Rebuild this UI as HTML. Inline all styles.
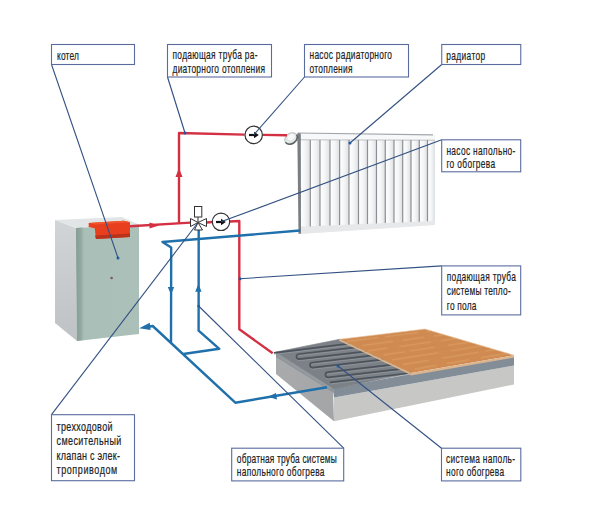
<!DOCTYPE html>
<html><head><meta charset="utf-8">
<style>
html,body{margin:0;padding:0;background:#fff;width:600px;height:514px;overflow:hidden}
svg{display:block}
text{font-family:"Liberation Sans",sans-serif;font-size:12.5px;fill:#222;stroke:#222;stroke-width:0.2px}
</style></head><body>
<svg width="600" height="514" viewBox="0 0 600 514">
<defs>
<linearGradient id="panel" x1="0" y1="0" x2="1" y2="0">
<stop offset="0" stop-color="#ffffff"/><stop offset="0.5" stop-color="#f4f5f6"/><stop offset="1" stop-color="#dcdfe2"/>
</linearGradient>
<linearGradient id="strip" x1="0" y1="0" x2="1" y2="0"><stop offset="0" stop-color="#869d96"/><stop offset="0.6" stop-color="#91a8a1"/><stop offset="1" stop-color="#a5bbb4"/></linearGradient>
<linearGradient id="leftface" x1="0" y1="0" x2="0" y2="1">
<stop offset="0" stop-color="#d2d5d8"/><stop offset="1" stop-color="#bfc2c5"/>
</linearGradient>
<linearGradient id="frontface" x1="0" y1="0" x2="1" y2="0">
<stop offset="0" stop-color="#9fb7af"/><stop offset="0.15" stop-color="#a9bfb8"/><stop offset="1" stop-color="#abc0b9"/>
</linearGradient>
<radialGradient id="knob" cx="0.4" cy="0.35" r="0.7">
<stop offset="0" stop-color="#ffffff"/><stop offset="0.5" stop-color="#dde1e3"/><stop offset="1" stop-color="#8d9498"/>
</radialGradient>
<linearGradient id="slableft" x1="0" y1="0" x2="1" y2="1">
<stop offset="0" stop-color="#a9abad"/><stop offset="1" stop-color="#a2a4a6"/>
</linearGradient>
</defs>

<!-- BOILER -->
<polygon points="55,220 76,228 77,341 55,323" fill="url(#leftface)"/>
<polygon points="55,220 122,217 139,224.5 76,228" fill="#e2e5e6"/>
<polygon points="76,228 139,224.5 139,334 77,341" fill="url(#frontface)"/>
<polygon points="76,228 83.5,227.6 83.5,340.1 77,341" fill="url(#strip)"/>
<!-- red burner block -->
<polygon points="88.7,223 124,220.7 130,222.3 130,237 96,239 94.7,228.3 88.7,227" fill="#e8401f"/>
<polygon points="88.7,223 124,220.7 130,222.3 95,224.5" fill="#f0552e"/>
<polygon points="95,235.5 130,233.5 130,237 96,239" fill="#b9331b"/>
<circle cx="111.6" cy="278" r="1.3" fill="#7a5a52"/>

<!-- RADIATOR -->
<polygon points="298,133 435,135 435,225 299,234" fill="#eef0f1"/>
<polygon points="300,140 310.3,140 310.3,226.4 300,226.8" fill="url(#panel)"/>
<polygon points="310.3,140 320,140 320,225.9 310.3,226.4" fill="url(#panel)"/>
<polygon points="320,140 330,140 330,225.5 320,225.9" fill="url(#panel)"/>
<polygon points="330,140 339.6,140 339.6,225.1 330,225.5" fill="url(#panel)"/>
<polygon points="339.6,140 349,140 349,224.7 339.6,225.1" fill="url(#panel)"/>
<polygon points="349,140 358.5,140 358.5,224.3 349,224.7" fill="url(#panel)"/>
<polygon points="358.5,140 367.5,140 367.5,223.9 358.5,224.3" fill="url(#panel)"/>
<polygon points="367.5,140 376.5,140 376.5,223.5 367.5,223.9" fill="url(#panel)"/>
<polygon points="376.5,140 385.3,140 385.3,223.1 376.5,223.5" fill="url(#panel)"/>
<polygon points="385.3,140 394,140 394,222.8 385.3,223.1" fill="url(#panel)"/>
<polygon points="394,140 402.7,140 402.7,222.4 394,222.8" fill="url(#panel)"/>
<polygon points="402.7,140 411,140 411,222.0 402.7,222.4" fill="url(#panel)"/>
<polygon points="411,140 419.3,140 419.3,221.7 411,222.0" fill="url(#panel)"/>
<polygon points="419.3,140 427.5,140 427.5,221.3 419.3,221.7" fill="url(#panel)"/>
<polygon points="427.5,140 435,140 435,221.0 427.5,221.3" fill="url(#panel)"/>
<polygon points="298,133 433,134.8 435.5,137 435,140 300,139.5" fill="#f7f8f9"/>
<line x1="298" y1="133" x2="433" y2="134.8" stroke="#a3a6a9" stroke-width="1.2"/>
<line x1="300" y1="139.8" x2="435" y2="140.2" stroke="#b9bcbf" stroke-width="0.9"/>
<polygon points="300,226.8 435,221 435,225 299,234" fill="#e6e8ea"/>
<g stroke="#8c8f93" stroke-width="1.2">
<line x1="310.3" y1="140" x2="310.3" y2="226.4"/>
<line x1="320" y1="140" x2="320" y2="225.9"/>
<line x1="330" y1="140" x2="330" y2="225.5"/>
<line x1="339.6" y1="140" x2="339.6" y2="225.1"/>
<line x1="349" y1="140" x2="349" y2="224.7"/>
<line x1="358.5" y1="140" x2="358.5" y2="224.3"/>
<line x1="367.5" y1="140" x2="367.5" y2="223.9"/>
<line x1="376.5" y1="140" x2="376.5" y2="223.5"/>
<line x1="385.3" y1="140" x2="385.3" y2="223.1"/>
<line x1="394" y1="140" x2="394" y2="222.8"/>
<line x1="402.7" y1="140" x2="402.7" y2="222.4"/>
<line x1="411" y1="140" x2="411" y2="222.0"/>
<line x1="419.3" y1="140" x2="419.3" y2="221.7"/>
<line x1="427.5" y1="140" x2="427.5" y2="221.3"/>
</g>
<polygon points="297.3,133 300.8,133.5 301,233.5 298.5,234" fill="#7a7e83"/>
<!-- radiator valve -->
<g transform="rotate(-35 291 138.5)">
<ellipse cx="291" cy="138.5" rx="6.8" ry="5.2" fill="#dfe6e3" stroke="#a4aca9" stroke-width="0.7"/>
<path d="M284.2,138.5 A6.8,5.2 0 0 0 297.8,138.5" fill="none" stroke="#5d6468" stroke-width="1.6"/>
<ellipse cx="292" cy="137.5" rx="3.8" ry="2.8" fill="#f6f8f7"/>
</g>

<!-- FLOOR -->
<polygon points="276,352 333,389 334,421.3 276,374" fill="url(#slableft)"/>
<polygon points="276,352 333,389 334,393 276,357" fill="#8e9399"/>
<polygon points="334,397.5 514,365.5 514,384.5 334,421.3" fill="#c7c7c5"/>
<polygon points="333,388.5 411,374 514,357 514,365.5 334,397.5" fill="#838d97"/>
<polygon points="276,352 339.75,339.25 411,373 333,389" fill="#7c8188" stroke="#7c8188" stroke-width="0.6"/>
<polygon points="277,353.5 333,388.5 329,389 276,355.5" fill="#959a9f"/>
<g fill="none" stroke="#9ba1a6" stroke-width="0.8" transform="translate(0.3,1.6)" opacity="0.7">
<path d="M274,352.8 L349.2,343.7"/>
<path d="M357.9,347.1 L299.1,354 A2.60,2.60 0 0 0 299.1,359.2 L366.7,351.3"/>
<path d="M375.4,355.2 L312.6,362.5 A2.60,2.60 0 0 0 312.6,367.7 L384.2,359.3"/>
<path d="M392.9,364.6 L328.1,372.2 A2.60,2.60 0 0 0 328.1,377.4 L401.7,368.8"/>
<path d="M330,382.4 L410.5,373.0"/>
</g>
<g fill="none" stroke="#4d535a" stroke-width="1.7">
<path d="M274,352.8 L349.2,343.7"/>
<path d="M357.9,347.1 L299.1,354 A2.60,2.60 0 0 0 299.1,359.2 L366.7,351.3"/>
<path d="M375.4,355.2 L312.6,362.5 A2.60,2.60 0 0 0 312.6,367.7 L384.2,359.3"/>
<path d="M392.9,364.6 L328.1,372.2 A2.60,2.60 0 0 0 328.1,377.4 L401.7,368.8"/>
<path d="M330,382.4 L410.5,373.0"/>
</g>
<polygon points="339.75,339.25 425,329 514,355.2 411,373" fill="#d08b52"/>
<g fill="none">
<path d="M346.9,341.4 L378.3,337.5 M384.8,336.7 L417.7,332.6 M426.8,331.4 L431.4,330.9" stroke="#e3ac70" stroke-width="1.6" opacity="0.35"/>
<path d="M357.3,343.1 L381.7,340.0 M386.8,339.3 L430.5,333.7" stroke="#c98448" stroke-width="1.0" opacity="0.3"/>
<path d="M362.5,345.5 L393.0,341.4 M402.5,340.2 L424.3,337.2 M433.8,336.0 L444.1,334.6" stroke="#e3ac70" stroke-width="1.6" opacity="0.35"/>
<path d="M366.8,348.0 L403.1,343.0 M406.5,342.5 L445.1,337.2" stroke="#c98448" stroke-width="1.0" opacity="0.3"/>
<path d="M368.0,350.9 L387.1,348.2 M399.4,346.5 L430.7,342.0 M441.3,340.5 L456.8,338.4" stroke="#e3ac70" stroke-width="1.6" opacity="0.35"/>
<path d="M378.8,352.5 L408.4,348.2 M420.1,346.5 L451.1,342.0" stroke="#c98448" stroke-width="1.0" opacity="0.3"/>
<path d="M383.6,354.9 L405.2,351.7 M409.6,351.0 L434.5,347.3 M448.3,345.3 L469.5,342.1" stroke="#e3ac70" stroke-width="1.6" opacity="0.35"/>
<path d="M383.3,358.1 L416.9,353.0 M424.2,351.9 L453.3,347.4 M462.9,346.0 L475.9,344.0" stroke="#c98448" stroke-width="1.0" opacity="0.3"/>
<path d="M392.1,359.9 L438.4,352.7 M451.2,350.7 L482.2,345.8" stroke="#e3ac70" stroke-width="1.6" opacity="0.35"/>
<path d="M392.2,363.1 L437.1,355.9 M451.4,353.7 L488.6,347.7" stroke="#c98448" stroke-width="1.0" opacity="0.3"/>
<path d="M402.8,364.6 L428.9,360.4 M441.8,358.3 L478.7,352.2 M485.1,351.2 L494.9,349.6" stroke="#e3ac70" stroke-width="1.6" opacity="0.35"/>
<path d="M410.8,366.5 L433.5,362.7 M446.2,360.6 L478.7,355.2 M483.5,354.4 L501.3,351.5" stroke="#c98448" stroke-width="1.0" opacity="0.3"/>
<path d="M414.8,369.1 L436.5,365.4 M447.0,363.6 L468.8,359.9 M480.6,357.9 L507.6,353.3" stroke="#e3ac70" stroke-width="1.6" opacity="0.35"/>
</g>
<path d="M339.75,339.25 L425,329 L514,355.2" fill="none" stroke="#e9c7a2" stroke-width="0.8" opacity="0.8"/>
<polygon points="411,373 514,355.2 514,357.6 411,375.6" fill="#dab48f"/>
<polygon points="339.75,339.25 411,373 412,375.6 339,340.8" fill="#d9b48e"/>


<!-- PIPES red -->
<g fill="none" stroke="#d43044" stroke-width="2.4" stroke-linejoin="round">
<polyline points="130,226.3 190.5,222.6"/>
<polyline points="179,223 179,133 244.5,134.6"/>
<polyline points="262.5,134.9 287,135.2"/>
<polyline points="206.5,222.5 212.3,222"/>
<polyline points="229.7,221.5 239.3,221 239.3,329.3 272.7,353.3"/>
</g>
<polygon points="149.5,222.6 159,225.4 149.5,228.4" fill="#d43044"/>
<polygon points="175.5,177 179,168 182.5,177" fill="#d43044"/>

<!-- PIPES blue -->
<g fill="none" stroke="#1f70ab" stroke-width="2.4" stroke-linejoin="round">
<polyline points="300,230.5 162.5,242 171.2,247.5 171,342.7"/>
<polyline points="198.7,230 198.6,330.7 219.3,348.8 183.3,354"/>
<polyline points="147,327 152.7,326 235.3,402.7 327,387.2"/>
</g>
<polygon points="139.2,328.2 149.8,322.8 150.6,330" fill="#1f70ab"/>
<polygon points="167.8,287 171,294.5 174.2,287" fill="#1f70ab"/>
<polygon points="195.2,291.8 198.4,284 201.6,291.8" fill="#1f70ab"/>
<polygon points="268,396.8 276,393 277,399.5" fill="#1f70ab"/>

<!-- VALVE -->
<g fill="#fff" stroke="#333" stroke-width="1">
<rect x="194.5" y="206.5" width="7.3" height="10.5"/>
<line x1="198" y1="217" x2="198" y2="222.5"/>
<polygon points="190.5,218.5 198,222.5 190.5,226.5"/>
<polygon points="206.5,218.5 198,222.5 206.5,226.5"/>
<polygon points="194.5,230 198,222.5 202.5,230"/>
</g>
<!-- PUMPS -->
<circle cx="253.7" cy="134.9" r="8.7" fill="#fff" stroke="#333" stroke-width="1.2"/>
<path d="M249,135 L255,135" stroke="#111" stroke-width="2.2"/>
<polygon points="254,131.8 258.8,135 254,138.2" fill="#111"/>
<circle cx="221" cy="221.8" r="8.7" fill="#fff" stroke="#333" stroke-width="1.2"/>
<path d="M216,222 L222,222" stroke="#111" stroke-width="2.2"/>
<polygon points="221,218.8 225.8,222 221,225.2" fill="#111"/>

<!-- LEADERS -->
<g stroke="#325082" stroke-width="1.1" fill="none">
<line x1="51.5" y1="64.5" x2="118" y2="258"/>
<line x1="167.5" y1="77" x2="185" y2="133"/>
<line x1="304.5" y1="77" x2="253.7" y2="134.9"/>
<line x1="441.75" y1="64.5" x2="350" y2="143"/>
<line x1="441.7" y1="139.8" x2="221" y2="221.8"/>
<line x1="441.7" y1="265.9" x2="240" y2="278.7"/>
<line x1="51.5" y1="414.7" x2="198" y2="222.5"/>
<line x1="343.7" y1="448.2" x2="198.6" y2="306"/>
<line x1="441.5" y1="448.2" x2="338" y2="366"/>
</g>
<g fill="#1f5aa0">
<circle cx="118" cy="258" r="1.5"/>
<circle cx="185" cy="133" r="1.5"/>
<circle cx="350" cy="143" r="1.5"/>
<circle cx="240" cy="278.7" r="1.5"/>
<circle cx="198.6" cy="306" r="1.3"/>
<circle cx="338" cy="366" r="1.5"/>
</g>

<!-- LABEL BOXES -->
<g fill="#fff" stroke="#5a6ba0" stroke-width="1.1">
<rect x="51.5" y="44.5" width="83" height="20"/>
<rect x="167.5" y="44.5" width="104" height="32.5"/>
<rect x="304.5" y="44.5" width="104" height="32.5"/>
<rect x="441.75" y="44.5" width="79" height="20"/>
<rect x="441.7" y="139.8" width="79" height="32"/>
<rect x="441.7" y="265.9" width="79" height="49"/>
<rect x="51.5" y="414.7" width="83" height="66"/>
<rect x="231.7" y="448.2" width="112" height="32.7"/>
<rect x="441.5" y="448.2" width="79.3" height="32.7"/>
</g>
<g>
<text transform="translate(57,59.8) scale(0.67,1)" x="0" y="0" textLength="32.8" lengthAdjust="spacing">котел</text>
<text transform="translate(172.5,58.6) scale(0.67,1)" x="0" y="0" textLength="126.9" lengthAdjust="spacing">подающая труба ра-</text>
<text transform="translate(172.5,72.6) scale(0.67,1)" x="0" y="0" textLength="138.1" lengthAdjust="spacing">диаторного отопления</text>
<text transform="translate(309.5,58.6) scale(0.67,1)" x="0" y="0" textLength="123.1" lengthAdjust="spacing">насос радиаторного</text>
<text transform="translate(309.5,72.6) scale(0.67,1)" x="0" y="0" textLength="64.2" lengthAdjust="spacing">отопления</text>
<text transform="translate(446.25,59.8) scale(0.67,1)" x="0" y="0" textLength="58.2" lengthAdjust="spacing">радиатор</text>
<text transform="translate(446.4,154.8) scale(0.67,1)" x="0" y="0" textLength="103.0" lengthAdjust="spacing">насос напольно-</text>
<text transform="translate(446.4,168.4) scale(0.67,1)" x="0" y="0" textLength="72.7" lengthAdjust="spacing">го обогрева</text>
<text transform="translate(446.8,280.6) scale(0.67,1)" x="0" y="0" textLength="103.0" lengthAdjust="spacing">подающая труба</text>
<text transform="translate(446.8,295.4) scale(0.67,1)" x="0" y="0" textLength="95.5" lengthAdjust="spacing">системы тепло-</text>
<text transform="translate(446.8,310.3) scale(0.67,1)" x="0" y="0" textLength="44.3" lengthAdjust="spacing">го пола</text>
<text transform="translate(56.5,430.7) scale(0.72,1)" x="0" y="0" textLength="77.8" lengthAdjust="spacing">трехходовой</text>
<text transform="translate(56.5,445.3) scale(0.72,1)" x="0" y="0" textLength="90.0" lengthAdjust="spacing">смесительный</text>
<text transform="translate(56.5,460) scale(0.72,1)" x="0" y="0" textLength="88.2" lengthAdjust="spacing">клапан с элек-</text>
<text transform="translate(56.5,474) scale(0.72,1)" x="0" y="0" textLength="84.4" lengthAdjust="spacing">троприводом</text>
<text transform="translate(236.8,463.1) scale(0.67,1)" x="0" y="0" textLength="149.3" lengthAdjust="spacing">обратная труба системы</text>
<text transform="translate(236.8,476.2) scale(0.67,1)" x="0" y="0" textLength="130.9" lengthAdjust="spacing">напольного обогрева</text>
<text transform="translate(446.1,463.1) scale(0.67,1)" x="0" y="0" textLength="103.0" lengthAdjust="spacing">система наполь-</text>
<text transform="translate(446.1,476.2) scale(0.67,1)" x="0" y="0" textLength="86.6" lengthAdjust="spacing">ного обогрева</text>
</g>
</svg>
</body></html>
